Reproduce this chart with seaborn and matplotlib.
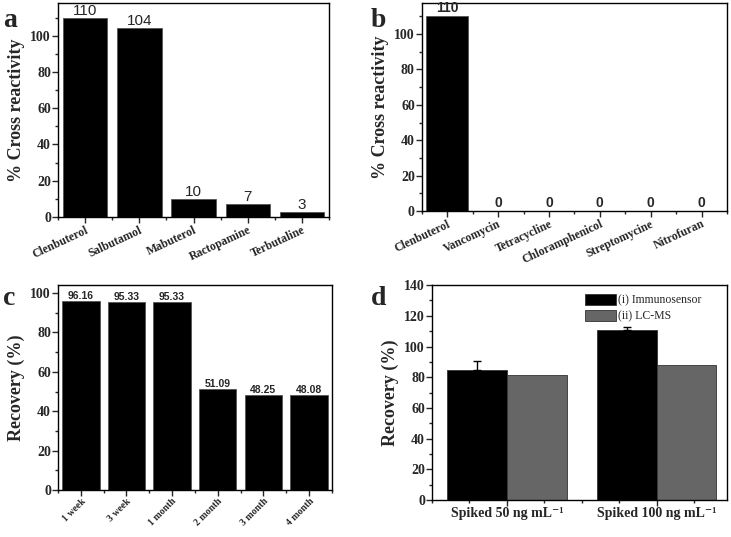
import pandas as pd, numpy as np
import seaborn as sns
import matplotlib
matplotlib.use("Agg")
import matplotlib.pyplot as plt
from matplotlib.ticker import AutoMinorLocator, MultipleLocator

#%% Data

drugs_a = ["Clenbuterol", "Salbutamol", "Mabuterol", "Ractopamine", "Terbutaline"]
cross_a = [110, 104, 10, 7, 3]

drugs_b = ["Clenbuterol", "Vancomycin", "Tetracycline", "Chloramphenicol",
           "Streptomycine", "Nitrofuran"]
cross_b = [110, 0, 0, 0, 0, 0]

storage = ["1 week", "3 week", "1 month", "2 month", "3 month", "4 month"]
recovery_c = [96.16, 95.33, 95.33, 51.09, 48.25, 48.08]

spiked = ["Spiked 50 ng mL\u207b\u00b9", "Spiked 100 ng mL\u207b\u00b9"]
methods = ["(i) Immunosensor", "(ii) LC-MS"]
recovery_immuno = [85.0, 110.5]
recovery_lcms = [81.5, 88.0]
err_immuno = [5.5, 2.5]

#%% Style

sns.set_style("ticks")
plt.rcParams["font.family"] = ["Liberation Serif", "DejaVu Serif"]
plt.rcParams["font.weight"] = "bold"
plt.rcParams["axes.labelweight"] = "bold"
plt.rcParams["axes.edgecolor"] = "black"
plt.rcParams["axes.linewidth"] = 1.0
plt.rcParams["xtick.direction"] = "out"
plt.rcParams["ytick.direction"] = "out"

fig = plt.figure(figsize=(7.31, 5.37), dpi=100)
ax_a = fig.add_axes([0.0793, 0.596, 0.371, 0.3984])
ax_b = fig.add_axes([0.577, 0.607, 0.4175, 0.3874])
ax_c = fig.add_axes([0.0793, 0.0875, 0.3747, 0.3815])
ax_d = fig.add_axes([0.591, 0.0689, 0.4035, 0.4001])


def style_axis(ax, ymax, ystep, xminor=0.5):
    ax.set_ylim(0, ymax)
    ax.yaxis.set_major_locator(MultipleLocator(ystep))
    ax.yaxis.set_minor_locator(AutoMinorLocator(2))
    ax.xaxis.set_minor_locator(MultipleLocator(xminor))
    ax.tick_params(axis="both", which="major", length=4, width=1,
                   labelsize=10, pad=1)
    ax.tick_params(axis="both", which="minor", length=2.5, width=1)
    for lbl in ax.get_yticklabels():
        lbl.set_fontweight("bold")
    for s in ax.spines.values():
        s.set_visible(True)
        s.set_color("black")


#%% Panel a

df_a = pd.DataFrame({"drug": drugs_a, "cr": cross_a})
sns.barplot(data=df_a, x="drug", y="cr", color="black", width=0.82,
            edgecolor="#555555", linewidth=0.6, saturation=1, ax=ax_a)
ax_a.set_xlim(-0.5, len(drugs_a) - 0.5)
style_axis(ax_a, 118, 20)
ax_a.set_xlabel("")
ax_a.set_ylabel("% Cross reactivity", fontsize=13, labelpad=4)
ax_a.set_xticks(range(len(drugs_a)))
ax_a.set_xticklabels(drugs_a, rotation=25, ha="right", rotation_mode="anchor",
                     fontsize=8.5, fontweight="bold")
ax_a.bar_label(ax_a.containers[0], labels=[str(v) for v in cross_a],
               padding=0, fontsize=11, fontweight="normal",
               family="Liberation Sans")

#%% Panel b

df_b = pd.DataFrame({"drug": drugs_b, "cr": cross_b})
sns.barplot(data=df_b, x="drug", y="cr", color="black", width=0.82,
            edgecolor="#555555", linewidth=0.6, saturation=1, ax=ax_b)
ax_b.set_xlim(-0.5, len(drugs_b) - 0.5)
style_axis(ax_b, 117.5, 20)
ax_b.set_xlabel("")
ax_b.set_ylabel("% Cross reactivity", fontsize=13, labelpad=4)
ax_b.set_xticks(range(len(drugs_b)))
ax_b.set_xticklabels(drugs_b, rotation=25, ha="right", rotation_mode="anchor",
                     fontsize=8.5, fontweight="bold")
ax_b.bar_label(ax_b.containers[0], labels=[str(v) for v in cross_b],
               padding=1, fontsize=10, fontweight="bold",
               family="Liberation Sans")

#%% Panel c

df_c = pd.DataFrame({"time": storage, "rec": recovery_c})
sns.barplot(data=df_c, x="time", y="rec", color="black", width=0.82,
            edgecolor="#555555", linewidth=0.6, saturation=1, ax=ax_c)
ax_c.set_xlim(-0.5, len(storage) - 0.5)
style_axis(ax_c, 104, 20)
ax_c.set_xlabel("")
ax_c.set_ylabel("Recovery (%)", fontsize=13, labelpad=4)
ax_c.set_xticks(range(len(storage)))
ax_c.set_xticklabels(storage, rotation=45, ha="right", rotation_mode="anchor",
                     fontsize=7, fontweight="bold")
ax_c.bar_label(ax_c.containers[0], labels=[f"{v:.2f}" for v in recovery_c],
               padding=0, fontsize=7.5, fontweight="bold",
               family="Liberation Sans")

#%% Panel d

df_d = pd.DataFrame({
    "sample": spiked * 2,
    "method": [methods[0]] * 2 + [methods[1]] * 2,
    "rec": recovery_immuno + recovery_lcms,
})
sns.barplot(data=df_d, x="sample", y="rec", hue="method",
            palette=["black", "#666666"], width=0.8, saturation=1,
            edgecolor="#333333", linewidth=0.6, ax=ax_d)
ax_d.set_xlim(-0.5, 1.47)
style_axis(ax_d, 140, 20, xminor=0.25)
ax_d.set_xlabel("")
ax_d.set_ylabel("Recovery (%)", fontsize=13, labelpad=4)
ax_d.set_xticks(range(len(spiked)))
ax_d.set_xticklabels(spiked, fontsize=10, fontweight="bold")

# upper-only error bars on the immunosensor bars
xs = [p.get_x() + p.get_width() / 2 for p in ax_d.containers[0]]
ax_d.errorbar(xs, recovery_immuno, yerr=[[0] * len(err_immuno), err_immuno],
              fmt="none", ecolor="black", elinewidth=1, capsize=3)

leg = ax_d.legend(loc="upper left", bbox_to_anchor=(0.52, 0.96),
                  frameon=False, fontsize=8.5, handlelength=2.6,
                  handleheight=1.15, handletextpad=0.15, labelspacing=0.25,
                  borderpad=0, borderaxespad=0)
for t in leg.get_texts():
    t.set_fontweight("normal")

#%% Panel letters

for letter, (x, y) in zip("abcd", [(0.004, 0.9497), (0.5075, 0.9497),
                                   (0.004, 0.432), (0.5075, 0.432)]):
    fig.text(x, y, letter, fontsize=20, fontweight="bold",
             family="Liberation Serif", va="baseline")

fig.savefig("out.png", dpi=100)
